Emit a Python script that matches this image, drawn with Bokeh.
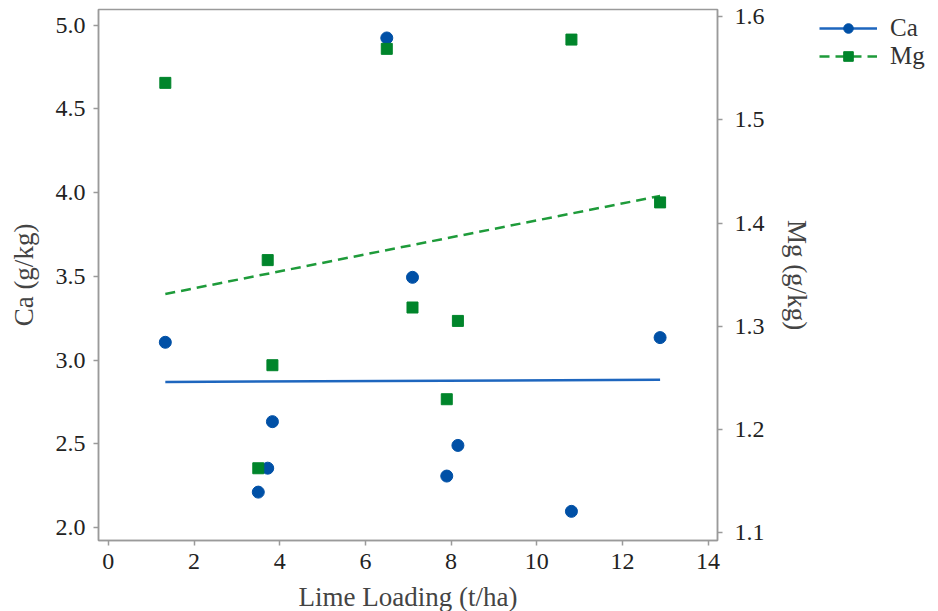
import numpy as np
from bokeh.plotting import figure
from bokeh.layouts import row
from bokeh.models import (Range1d, LinearAxis, Legend, LegendItem, FixedTicker,
                          PrintfTickFormatter)
from bokeh.embed import file_html
from bokeh.resources import INLINE

lime = [1.33, 3.50, 3.72, 3.83, 6.50, 7.10, 7.90, 8.16, 10.81, 12.88]
ca = [3.106, 2.211, 2.354, 2.632, 4.924, 3.494, 2.307, 2.490, 2.096, 3.134]
mg = [1.536, 1.162, 1.364, 1.262, 1.569, 1.318, 1.229, 1.305, 1.578, 1.420]

x_ticks = [0, 2, 4, 6, 8, 10, 12, 14]
ca_ticks = [2.0, 2.5, 3.0, 3.5, 4.0, 4.5, 5.0]
mg_ticks = [1.1, 1.2, 1.3, 1.4, 1.5, 1.6]
series = ["Ca", "Mg"]

FONT = "Liberation Serif"
BLUE_M = "#0050A6"
BLUE_L = "#1E66BE"
GREEN_M = "#00852B"
GREEN_L = "#1E9B3A"
AXIS_C = "#9a9a9a"

p = figure(frame_width=619, frame_height=531, output_backend="svg",
           toolbar_location=None,
           x_range=Range1d(-0.23, 14.22), y_range=Range1d(1.922, 5.094),
           min_border_left=98, min_border_top=9, min_border_bottom=71,
           min_border_right=92)
p.extra_y_ranges = {"mg": Range1d(1.0919, 1.6072)}
p.grid.visible = False
p.outline_line_color = AXIS_C
p.outline_line_width = 1.5
p.background_fill_color = "white"
p.border_fill_color = "white"

xfit = np.array([min(lime), max(lime)])
ca_coef = np.polyfit(lime, ca, 1)
mg_coef = np.polyfit(lime, mg, 1)
fits = [np.polyval(ca_coef, xfit), np.polyval(mg_coef, xfit)]
values = [ca, mg]

line_styles = [dict(line_color=BLUE_L, line_width=2.5),
               dict(line_color=GREEN_L, line_width=2.5, line_dash="10 6")]
marker_styles = [dict(marker="circle", size=12, fill_color=BLUE_M, line_color=BLUE_M),
                 dict(marker="square", size=11, fill_color=GREEN_M, line_color=GREEN_M)]

p.line(xfit, fits[0], **line_styles[0])
p.scatter(lime, ca, **marker_styles[0])
p.line(xfit, fits[1], y_range_name="mg", **line_styles[1])
p.scatter(lime, mg, y_range_name="mg", **marker_styles[1])

right = LinearAxis(y_range_name="mg", axis_label="Mg (g/kg)")
p.add_layout(right, "right")

for ax in [p.xaxis[0], p.yaxis[0], right]:
    ax.axis_line_color = AXIS_C
    ax.axis_line_width = 1.5
    ax.major_tick_line_color = AXIS_C
    ax.major_tick_line_width = 1.5
    ax.major_tick_out = 5
    ax.major_tick_in = 0
    ax.minor_tick_line_color = None
    ax.major_label_text_font = FONT
    ax.major_label_text_font_size = "24px"
    ax.major_label_text_color = "#222222"
    ax.axis_label_text_font = FONT
    ax.axis_label_text_font_size = "27px"
    ax.axis_label_text_font_style = "normal"
    ax.axis_label_text_color = "#444444"

p.xaxis[0].ticker = FixedTicker(ticks=x_ticks)
p.xaxis[0].axis_label = "Lime Loading (t/ha)"
p.yaxis[0].ticker = FixedTicker(ticks=ca_ticks)
p.yaxis[0].formatter = PrintfTickFormatter(format="%.1f")
p.yaxis[0].axis_label = "Ca (g/kg)"
right.ticker = FixedTicker(ticks=mg_ticks)
right.formatter = PrintfTickFormatter(format="%.1f")
p.yaxis[0].major_label_standoff = 8
right.major_label_standoff = 12
p.xaxis[0].major_label_standoff = 8
p.xaxis[0].axis_label_standoff = 10
p.yaxis[0].axis_label_standoff = 14
right.axis_label_standoff = 14

# legend panel (its sample renderers use the same data, kept outside its view)
lf = figure(width=938 - (98 + 619 + 92), height=611, output_backend="svg",
            toolbar_location=None, min_border=0,
            x_axis_location=None, y_axis_location=None,
            x_range=Range1d(100, 101), y_range=Range1d(100, 101))
lf.grid.visible = False
lf.outline_line_color = None
lf.background_fill_color = "white"
lf.border_fill_color = "white"

items = []
for name, fit, vals, ls, ms in zip(series, fits, values, line_styles, marker_styles):
    r1 = lf.line(xfit, fit, **ls)
    r2 = lf.scatter(lime, vals, **ms)
    items.append(LegendItem(label=name, renderers=[r1, r2]))

legend = Legend(items=items, location="top_left")
legend.border_line_color = None
legend.background_fill_alpha = 0
legend.label_text_font = FONT
legend.label_text_font_size = "25px"
legend.label_text_color = "#333333"
legend.glyph_width = 58
legend.glyph_height = 24
legend.label_height = 24
legend.spacing = 0
legend.label_standoff = 13
legend.margin = 5
legend.padding = 0
lf.add_layout(legend)

layout = row(p, lf, spacing=0)
open("out.html", "w").write(file_html(layout, INLINE))
